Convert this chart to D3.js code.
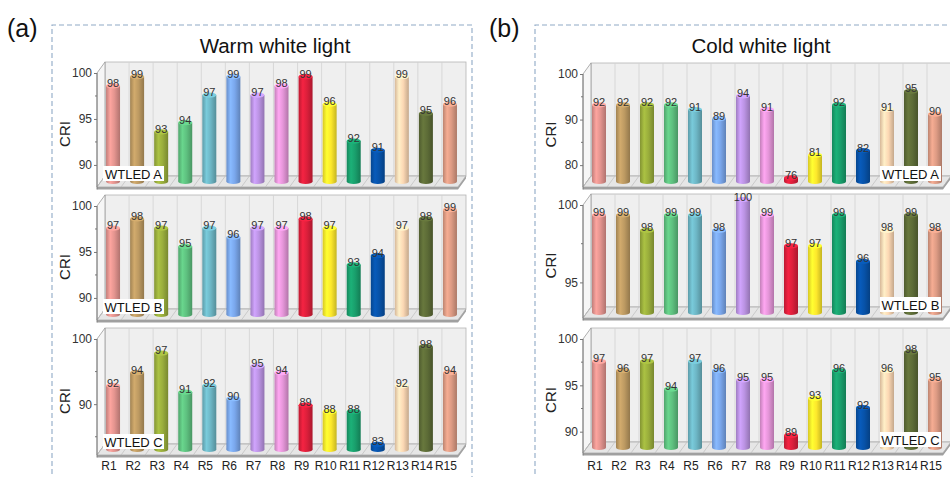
<!DOCTYPE html>
<html>
<head>
<meta charset="utf-8">
<script src="https://cdn.jsdelivr.net/npm/d3@7"></script>
<style>
  body { margin: 0; background: #fff; }
  svg { display: block; font-family: "Liberation Sans", Arial, sans-serif; }
</style>
</head>
<body>
<div id="chart"></div>
<script>
// data
var categories = ['R1', 'R2', 'R3', 'R4', 'R5', 'R6', 'R7', 'R8', 'R9', 'R10', 'R11', 'R12', 'R13', 'R14', 'R15'];
var warmA = [98, 99, 93, 94, 97, 99, 97, 98, 99, 96, 92, 91, 99, 95, 96];
var warmB = [97, 98, 97, 95, 97, 96, 97, 97, 98, 97, 93, 94, 97, 98, 99];
var warmC = [92, 94, 97, 91, 92, 90, 95, 94, 89, 88, 88, 83, 92, 98, 94];
var coldA = [92, 92, 92, 92, 91, 89, 94, 91, 76, 81, 92, 82, 91, 95, 90];
var coldB = [99, 99, 98, 99, 99, 98, 100, 99, 97, 97, 99, 96, 98, 99, 98];
var coldC = [97, 96, 97, 94, 97, 96, 95, 95, 89, 93, 96, 92, 96, 98, 95];
var ledNames = ['WTLED A', 'WTLED B', 'WTLED C'];
var barColors = ['#e3948f', '#bd9a62', '#9aae3c', '#5ec07f', '#6db6c5', '#7aa7ec', '#bb93e3',
    '#e596d9', '#dc1f3b', '#fde82c', '#199f6c', '#0752a8', '#fcd8b4', '#5d6c37', '#dd9b84'];

// tick values per sub plot
var ticksWarmAB = [90, 95, 100], minorWarmAB = [92.5, 97.5];
var ticksWarmC = [90, 100], minorWarmC = [85, 95];
var ticksColdA = [80, 90, 100], minorColdA = [85, 95];
var ticksColdB = [95, 100], minorColdB = [97.5];
var ticksColdC = [90, 95, 100], minorColdC = [92.5, 97.5];

var width = 950, height = 477;
var dx = 8, dy = -11; // depth offset of the 3d box

var svg = d3.select('#chart').append('svg')
    .attr('width', width)
    .attr('height', height);
var defs = svg.append('defs');

// cylinder shading, one gradient per colour
barColors.forEach(function(c, i) {
    var g = defs.append('linearGradient').attr('id', 'cyl' + i)
        .attr('x1', '0%').attr('x2', '100%').attr('y1', '0%').attr('y2', '0%');
    g.append('stop').attr('offset', '0%').attr('stop-color', d3.color(c).darker(0.45));
    g.append('stop').attr('offset', '30%').attr('stop-color', d3.color(c).brighter(0.3));
    g.append('stop').attr('offset', '60%').attr('stop-color', c);
    g.append('stop').attr('offset', '100%').attr('stop-color', d3.color(c).darker(0.7));
});

var panels = [
    { tag: '(a)', title: 'Warm white light', tagX: 7, titleX: 275, boxX0: 52, boxX1: 472,
      x0: 97, x1: 458, nameSide: 'left',
      subs: [
        { values: warmA, min: 87.6, top: 73, bot: 187, ticks: ticksWarmAB, minor: minorWarmAB },
        { values: warmB, min: 87.6, top: 206, bot: 320, ticks: ticksWarmAB, minor: minorWarmAB },
        { values: warmC, min: 82.2, top: 339, bot: 455, ticks: ticksWarmC, minor: minorWarmC }
      ] },
    { tag: '(b)', title: 'Cold white light', tagX: 489, titleX: 761, boxX0: 535, boxX1: 960,
      x0: 583, x1: 943, nameSide: 'right',
      subs: [
        { values: coldA, min: 75.2, top: 74, bot: 187, ticks: ticksColdA, minor: minorColdA },
        { values: coldB, min: 92.7, top: 205, bot: 318, ticks: ticksColdB, minor: minorColdB },
        { values: coldC, min: 87.7, top: 339, bot: 453, ticks: ticksColdC, minor: minorColdC }
      ] }
];

panels.forEach(function(p) {
    var pg = svg.append('g');

    // dashed frame
    pg.append('path')
        .attr('d', 'M' + p.boxX0 + ',' + (height + 5) + 'V25H' + p.boxX1 + 'V' + (height + 5))
        .attr('fill', 'none')
        .attr('stroke', '#8fa9c6')
        .attr('stroke-width', 1.1)
        .attr('stroke-dasharray', '5,3');

    pg.append('text').attr('x', p.tagX).attr('y', 37)
        .attr('font-size', 25).attr('fill', '#111').text(p.tag);
    pg.append('text').attr('x', p.titleX).attr('y', 53)
        .attr('text-anchor', 'middle')
        .attr('font-size', 20.5).attr('fill', '#111').text(p.title);

    var x = d3.scaleBand().domain(categories).range([p.x0, p.x1]);
    var bw = x.bandwidth();

    p.subs.forEach(function(s, si) {
        var y = d3.scaleLinear().domain([s.min, 100]).range([s.bot, s.top]);
        var g = pg.append('g');
        var yt = y(100), yb = y(s.min);

        // back wall
        g.append('rect')
            .attr('x', p.x0 + dx).attr('y', yt + dy)
            .attr('width', p.x1 - p.x0).attr('height', yb - yt)
            .attr('fill', '#efefef').attr('stroke', '#b5b5b5').attr('stroke-width', 0.8);
        g.selectAll('.grid').data(categories.slice(1)).enter().append('line')
            .attr('x1', function(d) { return x(d) + dx; })
            .attr('x2', function(d) { return x(d) + dx; })
            .attr('y1', yt + dy).attr('y2', yb + dy)
            .attr('stroke', '#d2d2d2').attr('stroke-width', 0.8);

        // left wall
        g.append('path')
            .attr('d', 'M' + [p.x0, yt] + 'L' + [p.x0 + dx, yt + dy] + 'L' + [p.x0 + dx, yb + dy] + 'L' + [p.x0, yb] + 'Z')
            .attr('fill', '#f6f6f6').attr('stroke', '#9a9a9a').attr('stroke-width', 0.8);

        // floor
        g.append('path')
            .attr('d', 'M' + [p.x0, yb] + 'L' + [p.x1, yb] + 'L' + [p.x1 + dx, yb + dy] + 'L' + [p.x0 + dx, yb + dy] + 'Z')
            .attr('fill', '#e6e6e6').attr('stroke', '#aaa').attr('stroke-width', 0.8);
        g.selectAll('.fgrid').data(categories.concat(['end'])).enter().append('line')
            .attr('x1', function(d, i) { return p.x0 + i * bw; })
            .attr('x2', function(d, i) { return p.x0 + i * bw + dx; })
            .attr('y1', yb).attr('y2', yb + dy)
            .attr('stroke', '#bdbdbd').attr('stroke-width', 0.7);
        // floor slab edge
        g.append('path')
            .attr('d', 'M' + [p.x0, yb] + 'L' + [p.x1, yb] + 'L' + [p.x1 + dx, yb + dy] + 'L' + [p.x1 + dx, yb + dy + 2.5] +
                'L' + [p.x1, yb + 2.5] + 'L' + [p.x0, yb + 2.5] + 'Z')
            .attr('fill', '#a0a0a0');

        // axis
        g.append('line').attr('x1', p.x0).attr('x2', p.x0).attr('y1', yt).attr('y2', yb + 2.5)
            .attr('stroke', '#777').attr('stroke-width', 0.9);
        var ax = g.append('g').attr('transform', 'translate(' + p.x0 + ',0)')
            .call(d3.axisLeft(y).tickValues(s.ticks).tickSize(3).tickPadding(2));
        ax.select('.domain').remove();
        ax.selectAll('line').attr('stroke', '#777');
        ax.selectAll('text').attr('font-size', 12).attr('fill', '#333')
            .style('font-family', '"Liberation Sans", Arial, sans-serif');
        g.selectAll('.minor').data(s.minor).enter().append('line')
            .attr('x1', p.x0 - 2).attr('x2', p.x0)
            .attr('y1', function(d) { return y(d); }).attr('y2', function(d) { return y(d); })
            .attr('stroke', '#777');

        g.append('text')
            .attr('transform', 'translate(' + (p.x0 - 27) + ',' + ((yt + yb) / 2 + 4) + ') rotate(-90)')
            .attr('text-anchor', 'middle').attr('font-size', 15).attr('fill', '#222').text('CRI');

        // cylinders
        var rx = 7, ry = 2.6;
        var bars = g.selectAll('.bar').data(s.values).enter().append('g');
        var cx = function(d, i) { return x(categories[i]) + bw / 2 + dx / 2; };
        var base = yb + dy / 2;
        bars.append('ellipse')
            .attr('cx', cx).attr('cy', base).attr('rx', rx).attr('ry', ry)
            .attr('fill', function(d, i) { return 'url(#cyl' + i + ')'; });
        bars.append('rect')
            .attr('x', function(d, i) { return cx(d, i) - rx; })
            .attr('y', function(d) { return y(d) + dy / 2; })
            .attr('width', rx * 2)
            .attr('height', function(d) { return Math.max(0, base - y(d) - dy / 2); })
            .attr('fill', function(d, i) { return 'url(#cyl' + i + ')'; });
        bars.append('ellipse')
            .attr('cx', cx).attr('cy', function(d) { return y(d) + dy / 2; })
            .attr('rx', rx).attr('ry', ry)
            .attr('fill', function(d, i) { return d3.color(barColors[i]).brighter(0.35); });

        // LED name box
        var name = ledNames[si];
        var bxw = 61, bxh = 15;
        var bx = p.nameSide === 'left' ? p.x0 + 6 : p.x1 - 63;
        var by = yb - 6 - bxh;
        g.append('rect').attr('x', bx).attr('y', by).attr('width', bxw).attr('height', bxh)
            .attr('fill', '#fff');
        g.append('text').attr('x', bx + bxw / 2).attr('y', by + bxh - 2.5)
            .attr('text-anchor', 'middle').attr('font-size', 13).attr('fill', '#111').text(name);

        // value labels
        g.selectAll('.val').data(s.values).enter().append('text')
            .attr('x', cx)
            .attr('y', function(d) { return y(d) + dy / 2 + 1; })
            .attr('text-anchor', 'middle')
            .attr('font-size', 11).attr('fill', '#333')
            .text(function(d) { return d; });

        // category labels on the last plot
        if (si === 2) {
            g.selectAll('.cat').data(categories).enter().append('text')
                .attr('x', function(d) { return x(d) + bw / 2; })
                .attr('y', 470)
                .attr('text-anchor', 'middle')
                .attr('font-size', 12).attr('fill', '#222')
                .text(function(d) { return d; });
        }
    });
});
</script>
</body>
</html>
